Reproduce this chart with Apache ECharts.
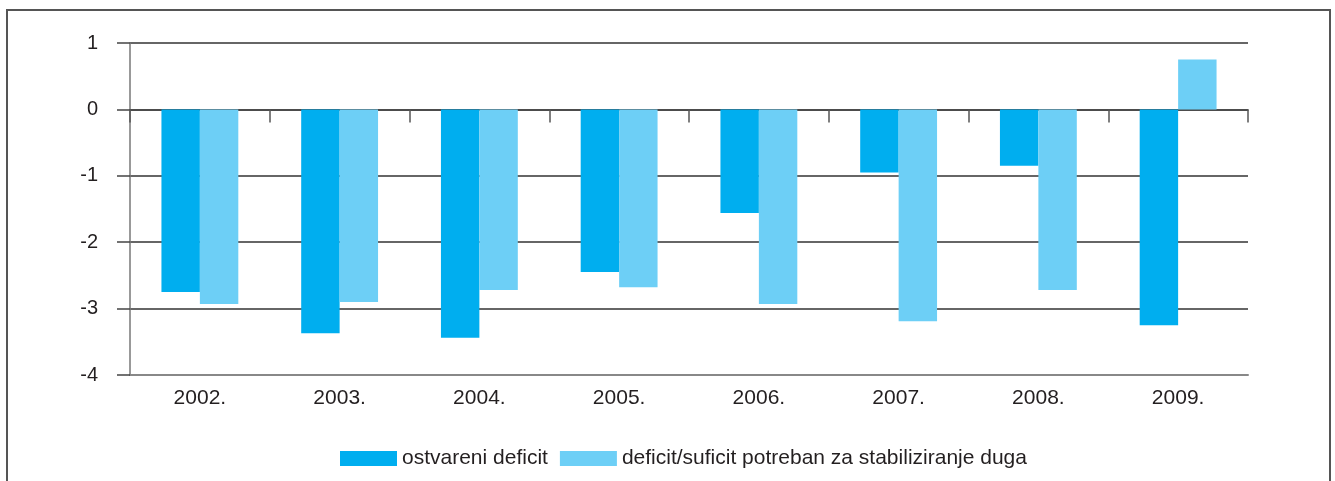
<!DOCTYPE html>
<html>
<head>
<meta charset="utf-8">
<script src="https://cdn.jsdelivr.net/npm/echarts@6/dist/echarts.min.js"></script>
<style>
  html, body { margin: 0; padding: 0; background: #fff; }
  #chart { width: 1335px; height: 481px; }
</style>
</head>
<body>
<div id="chart"></div>
<script>
// podaci
var years = ['2002.', '2003.', '2004.', '2005.', '2006.', '2007.', '2008.', '2009.'];
var ostvareniDeficit = [-2.75, -3.37, -3.44, -2.45, -1.56, -0.95, -0.85, -3.25];
var potrebanDeficit = [-2.93, -2.90, -2.72, -2.68, -2.93, -3.19, -2.72, 0.75];
var seriesNames = ['ostvareni deficit', 'deficit/suficit potreban za stabiliziranje duga'];

var chart = echarts.init(document.getElementById('chart'));

var option = {
    animation: false,
    textStyle: { fontFamily: 'Liberation Sans, Arial, sans-serif' },
    graphic: [{
        type: 'polyline',
        shape: { points: [[7, 481], [7, 10], [1330, 10], [1330, 481]] },
        style: { stroke: '#555', lineWidth: 2, fill: null }
    }],
    legend: {
        left: 335,
        top: 443,
        itemWidth: 57,
        itemHeight: 15,
        itemGap: 12,
        icon: 'rect',
        textStyle: { fontSize: 21, color: '#231f20' },
        data: seriesNames
    },
    grid: {
        left: 130,
        right: 87,
        top: 43,
        bottom: 106,
        containLabel: false
    },
    xAxis: [{
        type: 'category',
        data: years,
        position: 'bottom',
        axisLine: { onZero: false, lineStyle: { color: '#888', width: 2 } },
        axisTick: { show: false },
        axisLabel: { fontSize: 21, color: '#231f20', margin: 13 }
    }, {
        type: 'category',
        data: years,
        position: 'top',
        axisLine: { onZero: true, lineStyle: { color: '#444', width: 1.5 } },
        axisTick: { show: true, inside: true, length: 13, lineStyle: { color: '#555', width: 1.5 } },
        axisLabel: { show: false }
    }],
    yAxis: {
        type: 'value',
        min: -4,
        max: 1,
        interval: 1,
        axisLine: { show: true, lineStyle: { color: '#777', width: 1.5 } },
        axisTick: { show: true, length: 13, lineStyle: { color: '#444', width: 1.5 } },
        axisLabel: { fontSize: 20, color: '#231f20', margin: 32 },
        splitLine: { lineStyle: { color: '#333', width: 1.5 } }
    },
    series: [{
        name: seriesNames[0],
        type: 'bar',
        data: ostvareniDeficit,
        barGap: 0,
        barCategoryGap: '45%',
        itemStyle: { color: '#00AEEF' }
    }, {
        name: seriesNames[1],
        type: 'bar',
        data: potrebanDeficit,
        itemStyle: { color: '#6DCFF6' }
    }]
};

chart.setOption(option);
</script>
</body>
</html>
